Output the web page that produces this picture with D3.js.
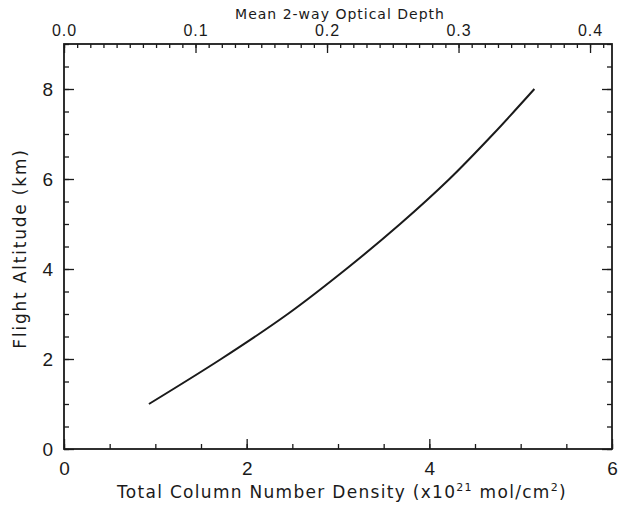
<!DOCTYPE html>
<html>
<head>
<meta charset="utf-8">
<script src="https://cdn.jsdelivr.net/npm/d3@7"></script>
<style>
  html, body { margin: 0; padding: 0; background: #fff; }
  svg { display: block; font-family: "DejaVu Sans", "Liberation Sans", sans-serif; }
</style>
</head>
<body>
<svg id="chart" width="623" height="506"></svg>
<script>
// Flight altitude (km) and total column number density (x10^21 mol/cm^2)
const altitude = [1, 2, 3, 4, 5, 6, 7, 8];
const columnDensity = [0.93, 1.72, 2.45, 3.09, 3.68, 4.22, 4.70, 5.15];

// Axis ticks
const bottomTicks = [0, 2, 4, 6];
const leftTicks = [0, 2, 4, 6, 8];
const topTicks = [0.0, 0.1, 0.2, 0.3, 0.4];

const xTitle = "Total Column Number Density";
const yTitle = "Flight Altitude (km)";
const topTitle = "Mean 2-way Optical Depth";

const svg = d3.select("#chart");
const margin = { left: 64, right: 11, top: 44, bottom: 57 };
const W = 623, H = 506;

const x = d3.scaleLinear().domain([0, 6]).range([margin.left, W - margin.right]);
const y = d3.scaleLinear().domain([0, 9]).range([H - margin.bottom, margin.top]);
const xTop = d3.scaleLinear().domain([0, 0.4167]).range([margin.left, W - margin.right]);

const ink = "#1a1a1a";

function styleAxis(g) {
  g.select(".domain").remove();
  g.selectAll("line").attr("stroke", ink).attr("stroke-width", 1.3);
  g.selectAll("text").attr("fill", ink);
}

// Minor ticks
svg.append("g").attr("transform", `translate(0,${y(0)})`)
  .call(d3.axisBottom(x).tickValues(d3.range(0, 6.01, 0.5)).tickSize(-5).tickFormat(""))
  .call(styleAxis);
svg.append("g").attr("transform", `translate(${x(0)},0)`)
  .call(d3.axisLeft(y).tickValues(d3.range(0, 9.01, 0.5)).tickSize(-5).tickFormat(""))
  .call(styleAxis);
svg.append("g").attr("transform", `translate(${x(6)},0)`)
  .call(d3.axisRight(y).tickValues(d3.range(0, 9.01, 0.5)).tickSize(-5).tickFormat(""))
  .call(styleAxis);
svg.append("g").attr("transform", `translate(0,${y(9)})`)
  .call(d3.axisTop(xTop).tickValues(d3.range(0, 0.4167, 0.01)).tickSize(-4).tickFormat(""))
  .call(styleAxis);

// Major ticks with labels
const gb = svg.append("g").attr("transform", `translate(0,${y(0)})`)
  .call(d3.axisBottom(x).tickValues(bottomTicks).tickSize(-10).tickPadding(13).tickFormat(d3.format("d")))
  .call(styleAxis);
gb.selectAll("text").attr("font-size", 19).attr("dy", "0.71em");

const gl = svg.append("g").attr("transform", `translate(${x(0)},0)`)
  .call(d3.axisLeft(y).tickValues(leftTicks).tickSize(-10).tickPadding(11).tickFormat(d3.format("d")))
  .call(styleAxis);
gl.selectAll("text").attr("font-size", 19);

svg.append("g").attr("transform", `translate(${x(6)},0)`)
  .call(d3.axisRight(y).tickValues(leftTicks).tickSize(-10).tickFormat(""))
  .call(styleAxis);

const gt = svg.append("g").attr("transform", `translate(0,${y(9)})`)
  .call(d3.axisTop(xTop).tickValues(topTicks).tickSize(-9).tickPadding(8).tickFormat(d3.format(".1f")))
  .call(styleAxis);
gt.selectAll("text").attr("font-size", 16).attr("letter-spacing", 1);

// Plot frame
svg.append("rect")
  .attr("x", x(0)).attr("y", y(9))
  .attr("width", x(6) - x(0)).attr("height", y(0) - y(9))
  .attr("fill", "none").attr("stroke", ink).attr("stroke-width", 1.8);

// Curve
const pts = altitude.map((a, i) => [columnDensity[i], a]);
svg.append("path")
  .datum(pts)
  .attr("fill", "none")
  .attr("stroke", ink)
  .attr("stroke-width", 2)
  .attr("d", d3.line().x(d => x(d[0])).y(d => y(d[1])).curve(d3.curveMonotoneY));

// Axis titles
const bt = svg.append("text")
  .attr("x", (x(0) + x(6)) / 2 + 4).attr("y", 498)
  .attr("text-anchor", "middle").attr("font-size", 17).attr("letter-spacing", 1.3).attr("fill", ink);
bt.append("tspan").text(xTitle + " (x10");
bt.append("tspan").attr("font-size", 11).attr("dy", -7).text("21");
bt.append("tspan").attr("dy", 7).text(" mol/cm");
bt.append("tspan").attr("font-size", 11).attr("dy", -7).text("2");
bt.append("tspan").attr("dy", 7).text(")");

svg.append("text")
  .attr("transform", `translate(26,${(y(0) + y(9)) / 2 + 2}) rotate(-90)`)
  .attr("text-anchor", "middle").attr("font-size", 17).attr("letter-spacing", 1.8).attr("fill", ink)
  .text(yTitle);

svg.append("text")
  .attr("x", (x(0) + x(6)) / 2 + 2).attr("y", 19)
  .attr("text-anchor", "middle").attr("font-size", 14).attr("letter-spacing", 1).attr("fill", ink)
  .text(topTitle);
</script>
</body>
</html>
